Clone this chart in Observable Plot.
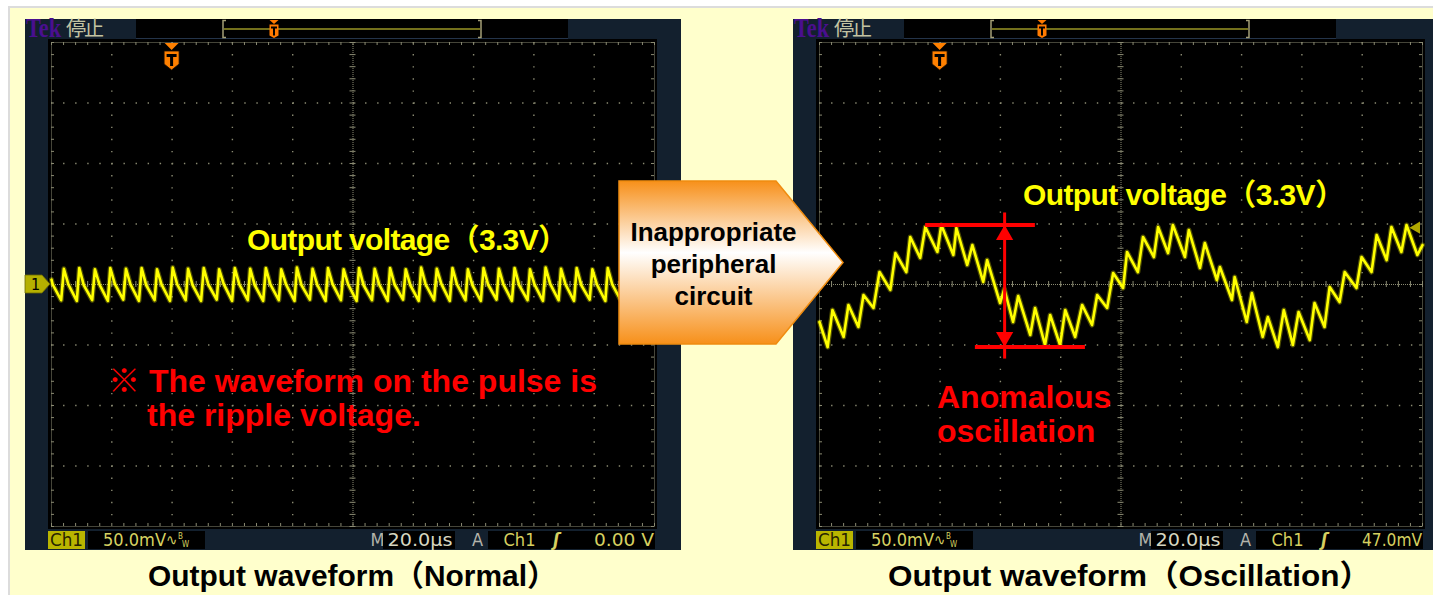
<!DOCTYPE html>
<html>
<head>
<meta charset="utf-8">
<script src="https://cdn.jsdelivr.net/npm/d3@7"></script>
<script src="https://cdn.jsdelivr.net/npm/@observablehq/plot@0.6"></script>
<style>
  html, body { margin: 0; padding: 0; background: #fff; }
  #page { position: relative; width: 1433px; height: 595px; overflow: hidden; background: #fff; }
  #page > svg { position: absolute; }
</style>
</head>
<body>
<div id="page"></div>
<script>
// ---------------- data ----------------
// horizontal: 20.0 µs/div x 10 div ; vertical: 50.0 mV/div x 8 div
const xTicks = [0, 20, 40, 60, 80, 100, 120, 140, 160, 180, 200];   // µs
const yTicks = [-200, -150, -100, -50, 0, 50, 100, 150, 200];       // mV
const panelTitles = ["Output waveform（Normal）", "Output waveform（Oscillation）"];
const outputLabel = "Output voltage（3.3V）";
const noteLines = ["※ The waveform on the pulse is", "the ripple voltage."];
const anomalyLines = ["Anomalous", "oscillation"];
const arrowLines = ["Inappropriate", "peripheral", "circuit"];
const triggerTime = 40;                 // µs (trigger point marker)
const triggerLevels = [0, 47.0];        // mV  (0.00 V / 47.0 mV)
const triggerLabels = ["0.00 V", "47.0mV"];
const scaleLabels = ["50.0mV", "20.0μs"];

// Normal waveform: ripple only (time µs, value mV)
const leftT = [
  0, 0.4, 3.2, 4.1,
  5.6, 8.4, 9.2,      10.7, 13.5, 14.4,   15.9, 18.7, 19.5,   21.0, 23.8, 24.7,
  26.2, 29.0, 29.9,   31.4, 34.2, 35.0,   36.5, 39.3, 40.2,   41.7, 44.5, 45.3,
  46.8, 49.6, 50.5,   52.0, 54.8, 55.6,   57.1, 59.9, 60.8,   62.3, 65.1, 65.9,
  67.4, 70.2, 71.1,   72.6, 75.4, 76.2,   77.8, 80.6, 81.4,   82.9, 85.7, 86.6,
  88.1, 90.9, 91.7,   93.2, 96.0, 96.9,   98.4, 101.2, 102.0, 103.5, 106.3, 107.2,
  108.7, 111.5, 112.3, 113.8, 116.6, 117.5, 119.0, 121.8, 122.6, 124.1, 126.9, 127.8,
  129.3, 132.1, 133.0, 134.5, 137.3, 138.1, 139.6, 142.4, 143.3, 144.8, 147.6, 148.4,
  149.9, 152.7, 153.6, 155.1, 157.9, 158.7, 160.2, 163.0, 163.9, 165.4, 168.2, 169.0,
  170.5, 173.3, 174.2, 175.7, 178.5, 179.4, 180.9, 183.7, 184.5, 186.0, 188.8, 189.7,
  191.2, 194.0, 194.8, 196.3, 199.1, 200.0
];
const leftV = [
  4, 0, -13, 13,
  0, -13.5, 13.5,   -0.5, -13, 12.5,  0, -13.5, 13.5,   0.5, -12.5, 13,
  0, -13.5, 13.5,   -0.5, -13, 12.5,  0, -13.5, 14,     0, -13, 13,
  -0.5, -13.5, 13.5, 0, -12.5, 12.5,  0.5, -13.5, 13.5, 0, -13, 13,
  -0.5, -13.5, 13.5, 0, -13, 12.5,    0, -13.5, 14,     -0.5, -12.5, 13,
  0, -13.5, 13.5,   0.5, -13, 12.5,   0, -13.5, 13.5,   -0.5, -13, 13,
  0, -13.5, 13.5,   0, -12.5, 12.5,   -0.5, -13.5, 14,  0, -13, 13,
  0.5, -13.5, 13.5, 0, -13, 12.5,     -0.5, -13.5, 13.5, 0, -12.5, 13,
  0, -13.5, 13.5,   -0.5, -13, 12.5,  0, -13.5, 14,     0.5, -13, 13,
  0, -13.5, 13.5,   -0.5, -12.5, 12.5, 0, -13.5, 13.5,  0, -13, 13,
  -0.5, -13.5, 13.5, 0, -13, 13
];

// Oscillating waveform (time µs, value mV) – ripple tops / bottoms
const rightT = [0, 2.7, 4.3, 8.0, 9.6, 12.9, 14.6, 17.9, 19.9, 23.5, 25.2, 28.8, 30.1, 33.4, 35.1,
  39.1, 40.4, 44.4, 45.4, 49.0, 50.7, 54.3, 55.6, 59.9, 61.3, 64.2, 65.9, 69.9, 71.5, 74.8,
  76.5, 79.8, 81.5, 84.8, 87.1, 90.4, 92.1, 95.4, 97.4, 100.7, 102.0, 105.6, 107.3, 110.9, 112.3,
  115.6, 117.2, 121.2, 122.5, 126.2, 127.8, 131.8, 132.8, 136.8, 137.7, 141.7, 143.4, 147.0, 148.7,
  152.0, 154.0, 157.0, 158.9, 162.6, 164.2, 167.5, 169.2, 172.5, 174.2, 178.1, 179.8, 183.1, 184.8,
  188.1, 189.7, 193.0, 194.7, 198.3, 200];
const rightV = [-31, -51.7, -21.1, -43.4, -16.9, -35.1, -8.7, -19.4, 10.3, -4.5, 26.0, 10.3, 39.3, 21.9, 47.5,
  26.9, 49.2, 24.4, 46.7, 16.1, 32.6, 2.1, 20.2, -15.3, -3.7, -31.0, -9.5, -41.7, -19.4, -50.0,
  -25.2, -50.0, -21.1, -43.4, -16.9, -33.5, -8.7, -19.4, 9.5, -2.9, 26.9, 10.3, 39.3, 22.7, 47.5,
  26.0, 49.2, 22.7, 45.0, 13.6, 34.3, 3.7, 14.5, -12.8, 6.2, -31.0, -7.0, -43.4, -26.9,
  -51.7, -21.1, -50.0, -22.7, -45.9, -15.3, -35.1, -2.1, -14.5, 10.3, -2.9, 22.7, 10.3, 40.9,
  20.2, 47.5, 26.9, 49.2, 24.4, 32.6];

// peak-to-peak measurement bars (time spans, µs)
const spanTopT = [35.2, 71.6];
const spanBotT = [51.7, 88.2];
const spanArrowT = 61.4;

// ---------------- drawing ----------------
const page = document.getElementById("page");
const NS = "http://www.w3.org/2000/svg";
const SANS = "'Liberation Sans', Arial, 'Noto Sans CJK JP', sans-serif";
const COND = "'DejaVu Sans Condensed', 'DejaVu Sans', sans-serif";
const PLOT_TOP = 39, PLOT_W = 609, PLOT_H = 490, M = 3;
const OFFS = [25, 793];            // scope frame left edges

function layer(inner) {
  const s = document.createElementNS(NS, "svg");
  s.setAttribute("width", 1433); s.setAttribute("height", 595);
  s.setAttribute("viewBox", "0 0 1433 595");
  s.style.left = "0px"; s.style.top = "0px";
  s.innerHTML = inner;
  page.appendChild(s);
  return s;
}

function chrome(ox, trigLabel) {
  const cx = ox + 249;
  const st = `font-family="${COND}" font-size="18"`;
  return `
  <rect x="${ox}" y="19" width="656" height="531" fill="#13202e"/>
  <text x="${ox + 1}" y="36.5" font-family="'Liberation Serif',serif" font-weight="bold" font-size="27" fill="#4a0f8f" textLength="35" lengthAdjust="spacingAndGlyphs">Tek</text>
  <text x="${ox + 41}" y="35.5" font-family="'Noto Sans CJK JP',sans-serif" font-size="20" fill="#c3c3a2" textLength="38">停止</text>
  <rect x="${ox + 111}" y="19" width="432" height="19" fill="#000"/>
  <line x1="${ox + 111}" y1="38.5" x2="${ox + 543}" y2="38.5" stroke="#24344a"/>
  <line x1="${ox + 199}" y1="29" x2="${ox + 455}" y2="29" stroke="#9a9626" stroke-width="1.6"/>
  <path d="M${ox + 201},20.5 h-3 v17 h3" fill="none" stroke="#a49e76" stroke-width="1.5"/>
  <path d="M${ox + 453},20.5 h3 v17 h-3" fill="none" stroke="#a49e76" stroke-width="1.5"/>
  <path d="M${cx - 4.5},20 h9 l-4.5,4 z" fill="#ff7a00"/>
  <path d="M${cx - 4.5},24.5 h9 v11 l-4.5,2.5 l-4.5,-2.5 z" fill="#ff7a00"/>
  <path d="M${cx - 3},26.5 h6 v2 h-2 v7 h-2 v-7 h-2 z" fill="#000"/>
  <rect x="${ox + 23}" y="531" width="37" height="18" fill="#b9b500"/>
  <text x="${ox + 25}" y="546" ${st} fill="#262300" textLength="33" lengthAdjust="spacingAndGlyphs">Ch1</text>
  <rect x="${ox + 63}" y="531" width="117" height="18" fill="#000"/>
  <text x="${ox + 78}" y="546" ${st} fill="#d6d262" textLength="63" lengthAdjust="spacingAndGlyphs">${scaleLabels[0]}</text>
  <text x="${ox + 141}" y="545" font-family="${COND}" font-size="15" fill="#d6d262">∿</text>
  <text x="${ox + 153}" y="539" font-family="${COND}" font-size="8" fill="#d6d262">B</text>
  <text x="${ox + 157}" y="547" font-family="${COND}" font-size="8" fill="#d6d262">W</text>
  <text x="${ox + 345.5}" y="546" ${st} fill="#b4b4aa">M</text>
  <rect x="${ox + 358}" y="531" width="72" height="18" fill="#000"/>
  <text x="${ox + 362.5}" y="546" ${st} fill="#d6d6c0" textLength="65" lengthAdjust="spacingAndGlyphs">${scaleLabels[1]}</text>
  <text x="${ox + 447}" y="546" ${st} fill="#b4b4aa">A</text>
  <rect x="${ox + 463}" y="531" width="167" height="18" fill="#000"/>
  <text x="${ox + 478.5}" y="546" ${st} fill="#d6d060" textLength="32" lengthAdjust="spacingAndGlyphs">Ch1</text>
  <text x="${ox + 528}" y="546" ${st} fill="#d6d060" font-style="italic" font-weight="bold">ʃ</text>
  <text x="${ox + 569}" y="546" ${st} fill="#d6d060" textLength="60" lengthAdjust="spacingAndGlyphs">${trigLabel}</text>`;
}

// background + scope chrome
layer(`
  <rect width="1433" height="595" fill="#fff"/>
  <rect x="8" y="6" width="1425" height="589" fill="#dcdcdc"/>
  <rect x="10" y="8" width="1423" height="587" fill="#ffffcc"/>
  ${chrome(OFFS[0], triggerLabels[0])}
  ${chrome(OFFS[1], triggerLabels[1])}
`);

function scopePlot(T, V, level, extra) {
  const data = T.map((t, i) => ({t, v: V[i]}));
  const minorT = d3.range(0, 200.001, 4);
  const minorV = d3.range(-200, 200.001, 10);
  const majorT = xTicks.filter(t => t > 0 && t < 200 && t !== 100);
  const majorV = yTicks.filter(v => v > -200 && v < 200 && v !== 0);
  const G = "#8a8a72";
  return Plot.plot({
    width: PLOT_W, height: PLOT_H, margin: M,
    x: {domain: [0, 200], axis: null},
    y: {domain: [-200, 200], axis: null},
    style: {background: "#000"},
    marks: [
      Plot.ruleX(majorT, {stroke: G, strokeWidth: 1.4, strokeDasharray: "1.4 10.7"}),
      Plot.ruleY(majorV, {stroke: G, strokeWidth: 1.4, strokeDasharray: "1.4 10.68"}),
      Plot.ruleX([100], {stroke: G, strokeDasharray: "1 1"}),
      Plot.ruleY([0], {stroke: G, strokeDasharray: "1 1"}),
      Plot.ruleY(minorV, {x1: 99, x2: 101, stroke: G}),
      Plot.ruleX(minorT, {y1: -2.5, y2: 2.5, stroke: G}),
      Plot.frame({stroke: G, strokeDasharray: "1 1"}),
      Plot.ruleX(minorT, {y1: 200, y2: 197.5, stroke: G}),
      Plot.ruleX(minorT, {y1: -200, y2: -197.5, stroke: G}),
      Plot.ruleY(minorV, {x1: 0, x2: 1, stroke: G}),
      Plot.ruleY(minorV, {x1: 200, x2: 199, stroke: G}),
      Plot.dot([level], {x: 200, y: d => d, symbol: "triangle", rotate: -90, r: 4.5, fill: "#b0a800", stroke: "none", dx: -6}),
      Plot.line(data, {x: "t", y: "v", stroke: "#ffff00", strokeWidth: 5, strokeOpacity: 0.3}),
      Plot.line(data, {x: "t", y: "v", stroke: "#ffff00", strokeWidth: 2.6}),
      ...extra
    ]
  });
}

const vMax = d3.max(rightV), vMin = d3.min(rightV);
const RED = "#ff0000";
const measure = [
  Plot.ruleY([vMax], {x1: spanTopT[0], x2: spanTopT[1], stroke: RED, strokeWidth: 4}),
  Plot.ruleY([vMin], {x1: spanBotT[0], x2: spanBotT[1], stroke: RED, strokeWidth: 4}),
  Plot.ruleX([spanArrowT], {y1: vMin, y2: vMax, stroke: RED, strokeWidth: 3, insetTop: 12, insetBottom: 12}),
  Plot.dot([vMax], {x: spanArrowT, y: d => d, symbol: "triangle", r: 6.4, fill: RED, stroke: "none", dy: 10}),
  Plot.dot([vMin], {x: spanArrowT, y: d => d, symbol: "triangle", r: 6.4, fill: RED, stroke: "none", rotate: 180, dy: -10})
];

const plots = [
  scopePlot(leftT, leftV, triggerLevels[0], []),
  scopePlot(rightT, rightV, triggerLevels[1], measure)
];
plots.forEach((p, i) => {
  p.style.position = "absolute";
  p.style.left = (OFFS[i] + 23) + "px";
  p.style.top = PLOT_TOP + "px";
  page.appendChild(p);
});

// trigger markers and channel marker from the plot scales
function trigMarker(cx) {
  return `
  <path d="M${cx - 7},43 h14 l-7,7 z" fill="#ff8000"/>
  <path d="M${cx - 7.5},51 h15 v13 l-7.5,6 l-7.5,-6 z" fill="#ff8000" stroke="#1a0d00" stroke-width="0.8"/>
  <path d="M${cx - 5},54 h10 v3 h-3.5 v9 h-3 v-9 h-3.5 z" fill="#000"/>`;
}
function chMarker(ox, cy) {
  return `
  <path d="M${ox},${cy - 9} h17 l8,9 l-8,9 h-17 z" fill="#b5b000" stroke="#6d6a00" stroke-width="0.8"/>
  <text x="${ox + 6}" y="${cy + 6}" font-family="${COND}" font-size="16" fill="#000">1</text>`;
}
let marks = "";
plots.forEach((p, i) => {
  const sx = p.scale("x"), sy = p.scale("y");
  const left = OFFS[i] + 23;
  marks += trigMarker(left + sx.apply(triggerTime));
  marks += chMarker(OFFS[i], PLOT_TOP + sy.apply(0));
});

// overlay: arrow shape, annotations, captions
layer(`
  <defs>
    <linearGradient id="ag" x1="0" y1="0" x2="0" y2="1">
      <stop offset="0" stop-color="#f7901a"/>
      <stop offset="0.44" stop-color="#ffffff"/>
      <stop offset="1" stop-color="#f7901a"/>
    </linearGradient>
  </defs>
  ${marks}
  <path d="M619,181 H776 L843,262.5 L776,344 H619 Z" fill="url(#ag)" stroke="#f08c10" stroke-width="1.5"/>
  <g font-family="${SANS}" font-weight="bold">
    <text x="247" y="250" font-size="30" fill="#ffff00" textLength="321" lengthAdjust="spacing">${outputLabel}</text>
    <text x="1023" y="205" font-size="30" fill="#ffff00" textLength="322" lengthAdjust="spacing">${outputLabel}</text>
    <text x="108" y="392" font-size="32" fill="${RED}">${noteLines[0]}</text>
    <text x="147" y="426" font-size="32" fill="${RED}">${noteLines[1]}</text>
    <text x="937" y="408" font-size="32" fill="${RED}">${anomalyLines[0]}</text>
    <text x="937" y="442" font-size="32" fill="${RED}">${anomalyLines[1]}</text>
    <text x="713.5" y="241" text-anchor="middle" font-size="26" fill="#000">${arrowLines[0]}</text>
    <text x="713.5" y="273" text-anchor="middle" font-size="26" fill="#000">${arrowLines[1]}</text>
    <text x="713.5" y="305" text-anchor="middle" font-size="26" fill="#000">${arrowLines[2]}</text>
    <text x="148" y="586" font-size="30" fill="#000" textLength="409" lengthAdjust="spacingAndGlyphs">${panelTitles[0]}</text>
    <text x="888" y="586" font-size="30" fill="#000" textLength="483" lengthAdjust="spacingAndGlyphs">${panelTitles[1]}</text>
  </g>
`);
</script>
</body>
</html>
